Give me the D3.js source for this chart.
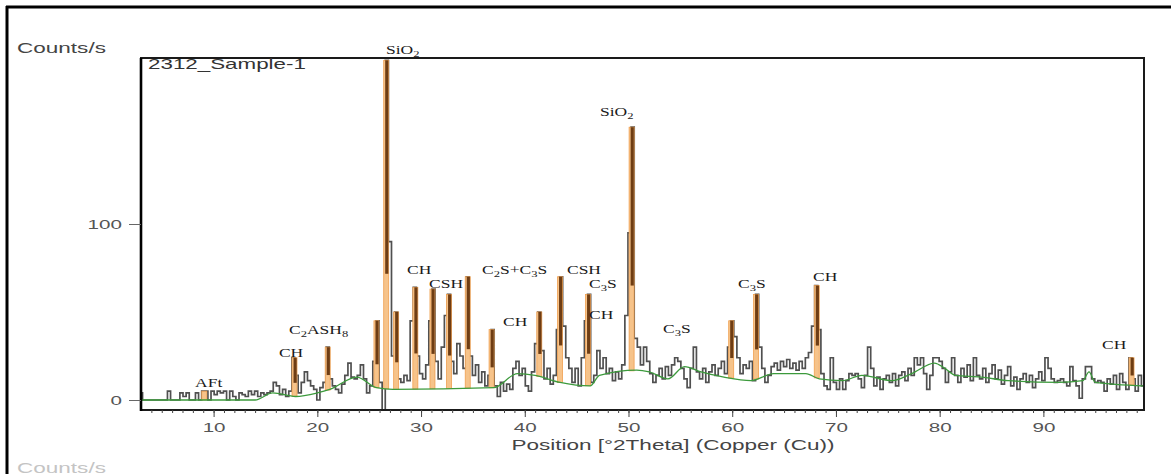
<!DOCTYPE html>
<html><head><meta charset="utf-8">
<script src="https://cdn.jsdelivr.net/npm/d3@7"></script>
<style>body{margin:0;background:#fff;} svg{display:block;}</style>
</head><body><svg id="chart" width="1171" height="474"></svg>
<script>
// ---------- data ----------
const scanStart = 3.0;      // °2Theta of first step
const scanStep = 0.3;       // step size of the scan
const counts = [
  4,0,0,0,0,0,0,0,0,5,
  0,0,0,4,2,4,0,0,4,0,
  5,5,0,5,3,5,4,5,0,5,
  2,0,4,3,2,5,3,5,2,4,
  3,4,5,10,8,3,6,2,5,24,
  14,4,10,16,11,8,6,0,7,10,
  30,12,8,6,4,9,14,21,13,12,
  14,20,12,4,8,22,45,10,-6,193,
  90,25,50,12,10,14,11,45,64,25,
  15,12,20,45,63,22,12,30,48,60,
  22,15,32,25,18,70,25,14,20,10,
  16,8,14,40,8,2,10,5,9,6,
  18,22,14,18,8,5,16,32,50,28,
  12,18,9,14,40,70,42,24,18,10,
  18,8,24,45,60,10,14,28,18,24,
  15,18,11,16,12,20,48,95,155,35,
  30,20,30,22,15,10,14,18,12,19,
  14,20,24,22,18,12,7,18,30,16,
  12,18,10,16,20,14,18,22,15,30,
  45,36,24,15,20,18,22,11,60,30,
  18,10,14,19,21,17,22,19,23,18,
  21,17,22,18,24,27,42,65,40,15,
  8,6,24,10,6,12,6,11,15,14,
  15,12,7,14,30,18,8,13,6,12,
  14,10,15,8,14,16,11,18,14,24,
  20,24,15,6,14,24,24,22,18,10,
  16,24,14,10,18,13,20,11,24,14,
  12,18,10,15,20,12,17,9,14,19,
  8,13,6,12,15,10,14,7,12,16,
  11,24,18,12,10,11,12,10,8,19,
  11,8,1,12,19,19,12,10,11,10,
  5,12,9,14,6,15,10,6,24,12,
  5,14,8
];
const bgAngles = [3,14,15.7,17.9,20,21.2,23.8,25.7,27.3,37,39.3,41,43.4,46.3,47.2,50.8,52,53.8,55.4,57,59.2,61.8,64,67.1,68.4,70.6,72.5,75.4,77.3,79.5,80.5,81.5,84,86.6,91.5,93.8,94.4,95,99.7];
const bgCounts = [0,0,4,2,4,6,13,7,6,7,15,14,10,8,14,17,16,12,19,16,13,11,15,15,12,11,14,11,15,21,18,14,13,11,10,11,16,10,8];
const peakAngles  = [9.1,17.8,21.0,25.7,26.64,27.6,29.45,31.1,32.7,34.5,36.8,41.4,43.4,46.1,50.3,59.9,62.3,68.15,98.5];
const peakHeights = [5,24,30,45,193,50,64,63,60,70,40,50,70,60,155,45,60,65,24];
const labelTexts  = ["AFt","CH","C_2ASH_8","SiO_2","CH","CSH","C_2S+C_3S","CH","CSH","C_3S","CH","SiO_2","C_3S","C_3S","CH","CH"];
const labelAngles = [8.21,16.3,17.27,26.62,28.65,30.77,35.88,37.9,44.07,46.19,46.19,47.25,53.33,60.56,67.79,95.65];
const labelCounts = [7.4,24.4,37.5,196.6,71.6,63.6,71.6,42,71.6,63.6,46,161.4,38,63.6,67.6,29];
const xTickValues = [10,20,30,40,50,60,70,80,90];
const yTickValues = [0,100];
const xTitle = "Position [°2Theta] (Copper (Cu))";
const yTitle = "Counts/s";
const sampleName = "2312_Sample-1";

// ---------- layout ----------
const svg = d3.select("#chart");
const L = 141, R = 1144, T = 58, B = 410;
const x = d3.scaleLinear().domain([3, 99.7]).range([L, R]);
const y = d3.scaleLinear().domain([0, 100]).range([400, 224]);

// outer frame
svg.append("line").attr("x1",6).attr("x2",1171).attr("y1",7).attr("y2",7).attr("stroke","#000").attr("stroke-width",3);
svg.append("line").attr("x1",7).attr("x2",7).attr("y1",6).attr("y2",474).attr("stroke","#000").attr("stroke-width",3);

svg.append("defs").append("clipPath").attr("id","plotclip")
  .append("rect").attr("x",L).attr("y",T).attr("width",R-L).attr("height",B-T);

const plot = svg.append("g").attr("clip-path","url(#plotclip)");

// background interpolation (for the base of each peak mark)
const bgInterp = a => {
  for (let i = 0; i < bgAngles.length-1; i++) {
    if (a >= bgAngles[i] && a <= bgAngles[i+1]) {
      const t = (a - bgAngles[i]) / (bgAngles[i+1]-bgAngles[i]);
      return bgCounts[i] + t*(bgCounts[i+1]-bgCounts[i]);
    }
  }
  return bgCounts[bgCounts.length-1];
};

// profile
const profile = counts.map((c,i) => [scanStart + i*scanStep, c]);
plot.append("path").datum(profile)
  .attr("d", d3.line().x(d=>x(d[0])).y(d=>y(d[1])).curve(d3.curveStep))
  .attr("fill","none").attr("stroke","#505050").attr("stroke-width",1.7);

// peaks
peakAngles.forEach((a,i) => {
  const h = peakHeights[i], b = bgInterp(a);
  const px = x(a);
  plot.append("rect").attr("x",px-2.5).attr("width",5)
    .attr("y",y(h)).attr("height",Math.max(0,y(b)-y(h)))
    .attr("fill","#f6c38a").attr("stroke","#f0a050").attr("stroke-width",0.8);
  if (h - b > 12) {
    const mid = b + (h-b)*0.35;
    plot.append("rect").attr("x",px-1).attr("width",3.2)
      .attr("y",y(h)).attr("height",Math.max(0,y(mid)-y(h)))
      .attr("fill","#6e3d14");
  }
});

plot.append("path").datum(bgAngles.map((a,i)=>[a,bgCounts[i]]))
  .attr("d", d3.line().x(d=>x(d[0])).y(d=>y(d[1])).curve(d3.curveMonotoneX))
  .attr("fill","none").attr("stroke","#3c9a3c").attr("stroke-width",1.3);

// plot box
svg.append("rect").attr("x",L).attr("y",T).attr("width",R-L).attr("height",B-T)
  .attr("fill","none").attr("stroke","#1a1a1a").attr("stroke-width",2);
svg.append("line").attr("x1",L).attr("x2",L).attr("y1",T).attr("y2",B+1).attr("stroke","#000").attr("stroke-width",2.6);

// axes
const sx = 1.65;
const xMinor = svg.append("g").attr("transform",`translate(0,${B})`)
  .call(d3.axisBottom(x).tickValues(d3.range(4,100)).tickSize(3).tickFormat(""));
xMinor.select(".domain").remove();
xMinor.selectAll("line").attr("stroke","#444");
const xAx = svg.append("g").attr("transform",`translate(0,${B})`)
  .call(d3.axisBottom(x).tickValues(xTickValues).tickSize(7).tickFormat(d3.format("d")));
xAx.select(".domain").remove();
xAx.selectAll("line").attr("stroke","#444");
xAx.selectAll("text").attr("y",22).attr("dy",0)
  .attr("font-family","Liberation Sans, Arial, sans-serif").attr("font-size",12.5)
  .attr("fill","#555").attr("transform",`scale(${sx},1)`);

const yAx = svg.append("g").attr("transform",`translate(${L},0)`)
  .call(d3.axisLeft(y).tickValues(yTickValues).tickSize(12));
yAx.select(".domain").remove();
yAx.selectAll("line").attr("stroke","#666");
yAx.selectAll("text").attr("x",-19/sx).attr("dy","0.36em")
  .attr("font-family","Liberation Sans, Arial, sans-serif").attr("font-size",12.5)
  .attr("fill","#555").attr("transform",`scale(${sx},1)`);

// stretched sans text helper
function stretched(txt, px, py, width, size, color, anchor) {
  const t = svg.append("text").text(txt)
    .attr("font-family","Liberation Sans, Arial, sans-serif").attr("font-size",size)
    .attr("fill",color).attr("text-anchor",anchor||"start");
  const w = t.node().getComputedTextLength();
  t.attr("transform",`translate(${px},${py}) scale(${width/w},1)`);
  return t;
}
stretched(yTitle, 17, 53, 89, 14, "#444");
stretched(sampleName, 148, 69, 158, 14, "#333");
stretched(xTitle, 673, 450, 323, 14, "#444", "middle");
stretched(yTitle, 17, 473, 89, 14, "#c4c4c4");

// phase annotations (serif, with subscripts)
const ann = svg.append("g");
labelTexts.forEach((s,i) => {
  const t = ann.append("text")
    .attr("font-family","Liberation Serif, Times New Roman, serif")
    .attr("font-size",12.5).attr("fill","#1a1a1a")
    .attr("transform",`translate(${x(labelAngles[i])},${y(labelCounts[i])}) scale(1.4,1)`);
  const parts = s.split(/(_.)/).filter(p=>p.length);
  let shifted = false;
  parts.forEach(p => {
    if (p[0] === "_") {
      t.append("tspan").text(p[1]).attr("font-size",9).attr("dy",3);
      shifted = true;
    } else {
      const ts = t.append("tspan").text(p);
      if (shifted) { ts.attr("dy",-3); shifted = false; }
    }
  });
});
</script></body></html>
